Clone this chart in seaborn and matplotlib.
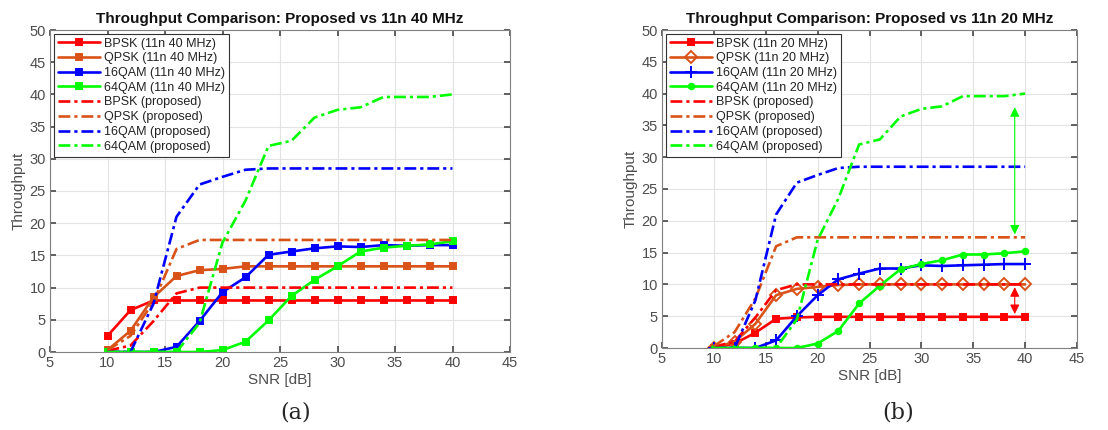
import numpy as np
import pandas as pd
import matplotlib
matplotlib.use("Agg")
import matplotlib.pyplot as plt
import seaborn as sns

# ---------------- data ----------------
snr = [10, 12, 14, 16, 18, 20, 22, 24, 26, 28, 30, 32, 34, 36, 38, 40]

# (a) 11n 40 MHz
bpsk_40 = [2.5, 6.5, 8.0, 8.0, 8.0, 8.0, 8.0, 8.0, 8.0, 8.0, 8.0, 8.0, 8.0, 8.0, 8.0, 8.0]
qpsk_40 = [0.3, 3.3, 8.5, 11.8, 12.7, 12.9, 13.3, 13.3, 13.3, 13.3, 13.3, 13.3, 13.3, 13.3, 13.3, 13.3]
qam16_40 = [0.0, 0.0, 0.0, 0.8, 4.8, 9.3, 11.6, 15.1, 15.6, 16.1, 16.4, 16.3, 16.6, 16.5, 16.6, 16.6]
qam64_40 = [0.0, 0.0, 0.0, 0.0, 0.0, 0.3, 1.6, 4.9, 8.7, 11.2, 13.3, 15.6, 16.2, 16.5, 16.7, 17.2]

# (b) 11n 20 MHz
bpsk_20 = [0.0, 0.7, 2.4, 4.6, 4.8, 4.9, 4.9, 4.9, 4.9, 4.9, 4.9, 4.9, 4.9, 4.9, 4.9, 4.9]
qpsk_20 = [0.0, 1.0, 3.8, 8.3, 9.3, 9.6, 9.9, 10.0, 10.0, 10.0, 10.0, 10.0, 10.0, 10.0, 10.0, 10.0]
qam16_20 = [0.0, 0.0, 0.0, 1.2, 5.0, 8.3, 10.8, 11.7, 12.5, 12.5, 13.0, 12.9, 13.0, 13.1, 13.2, 13.2]
qam64_20 = [0.0, 0.0, 0.0, 0.0, 0.0, 0.7, 2.7, 7.0, 9.8, 12.4, 13.2, 13.8, 14.7, 14.7, 14.9, 15.2]

# proposed
bpsk_prop = [0.2, 1.0, 4.8, 9.1, 10.0, 10.0, 10.0, 10.0, 10.0, 10.0, 10.0, 10.0, 10.0, 10.0, 10.0, 10.0]
qpsk_prop = [0.3, 2.5, 7.8, 16.0, 17.4, 17.4, 17.4, 17.4, 17.4, 17.4, 17.4, 17.4, 17.4, 17.4, 17.4, 17.4]
qam16_prop = [0.0, 0.0, 7.5, 21.0, 26.0, 27.2, 28.3, 28.5, 28.5, 28.5, 28.5, 28.5, 28.5, 28.5, 28.5, 28.5]
qam64_prop = [0.0, 0.0, 0.0, 0.0, 4.5, 17.0, 23.5, 32.0, 32.8, 36.4, 37.6, 38.0, 39.6, 39.6, 39.6, 40.0]

mods = ["BPSK", "QPSK", "16QAM", "64QAM"]
colors = ["#ff0000", "#d95319", "#0000ff", "#00ff00"]

# ---------------- style ----------------
sns.set_theme(style="whitegrid")
plt.rcParams["font.family"] = ["Liberation Sans", "DejaVu Sans"]

fig = plt.figure(figsize=(11.08, 4.30), dpi=100)
W, H = 1108, 430
ax1 = fig.add_axes([50 / W, 1 - 352 / H, 460 / W, 322 / H])
ax2 = fig.add_axes([662 / W, 1 - 348 / H, 415 / W, 318 / H])

def draw(ax, base, band, markers, msizes, mfaces):
    for m, c, vals, mk, ms, mf in zip(mods, colors, base, markers, msizes, mfaces):
        sns.lineplot(x=snr, y=vals, ax=ax, color=c, linewidth=1.9, marker=mk,
                     markersize=ms, markerfacecolor=(c if mf else "none"),
                     markeredgecolor=c, markeredgewidth=1.4,
                     label=f"{m} (11n {band} MHz)")
    for m, c, vals in zip(mods, colors, [bpsk_prop, qpsk_prop, qam16_prop, qam64_prop]):
        sns.lineplot(x=snr, y=vals, ax=ax, color=c, linewidth=1.9,
                     linestyle=(0, (4.5, 1.5, 1.2, 1.5)), label=f"{m} (proposed)")

def style(ax, title):
    ax.set_xlim(5, 45)
    ax.set_ylim(0, 50)
    ax.set_xticks(range(5, 50, 5))
    ax.set_yticks(range(0, 55, 5))
    ax.grid(True, color="#e3e3e3", linewidth=0.8)
    ax.set_facecolor("white")
    for s in ax.spines.values():
        s.set_color("#808080")
        s.set_linewidth(0.8)
    ax.tick_params(axis="both", colors="#4d4d4d", labelsize=10.5, direction="in",
                   length=4, top=True, right=True, bottom=True, left=True,
                   labelcolor="#4d4d4d", pad=3)
    ax.set_title(title, fontsize=11, fontweight="bold", color="#111111", pad=5)
    ax.set_xlabel("SNR [dB]", fontsize=11, color="#4d4d4d", labelpad=2)
    ax.set_ylabel("Throughput", fontsize=11, color="#4d4d4d", labelpad=3)
    leg = ax.legend(loc="upper left", fontsize=9, handlelength=3.4, borderpad=0.3,
                    labelspacing=0.22, handletextpad=0.3, fancybox=False,
                    framealpha=1, borderaxespad=0.3)
    leg.get_frame().set_edgecolor("#333333")
    leg.get_frame().set_linewidth(0.8)
    for t in leg.get_texts():
        t.set_color("#222222")

draw(ax1, [bpsk_40, qpsk_40, qam16_40, qam64_40], 40,
     ["s", "s", "s", "s"], [4.5, 4.5, 4.5, 4.5], [True, True, True, True])
style(ax1, "Throughput Comparison: Proposed vs 11n 40 MHz")

draw(ax2, [bpsk_20, qpsk_20, qam16_20, qam64_20], 20,
     ["s", "D", "+", "."], [4.5, 6.5, 8, 8], [True, False, True, True])
style(ax2, "Throughput Comparison: Proposed vs 11n 20 MHz")

# annotation arrows in (b)
ax2.annotate("", xy=(39, qam64_prop[-2] - 1.3), xytext=(39, qpsk_prop[-1]),
             arrowprops=dict(arrowstyle="<|-|>", color="#00ff00", lw=0.8,
                             mutation_scale=14))
ax2.annotate("", xy=(39, bpsk_prop[-1]), xytext=(39, bpsk_20[-1]),
             arrowprops=dict(arrowstyle="<|-|>", color="#ff0000", lw=0.8,
                             mutation_scale=14))

fig.text(296 / W, 1 - 412 / H, "(a)", fontsize=16, family="DejaVu Serif",
         ha="center", va="center")
fig.text(898 / W, 1 - 412 / H, "(b)", fontsize=16, family="DejaVu Serif",
         ha="center", va="center")

fig.savefig("out.png", dpi=100, facecolor="white")
